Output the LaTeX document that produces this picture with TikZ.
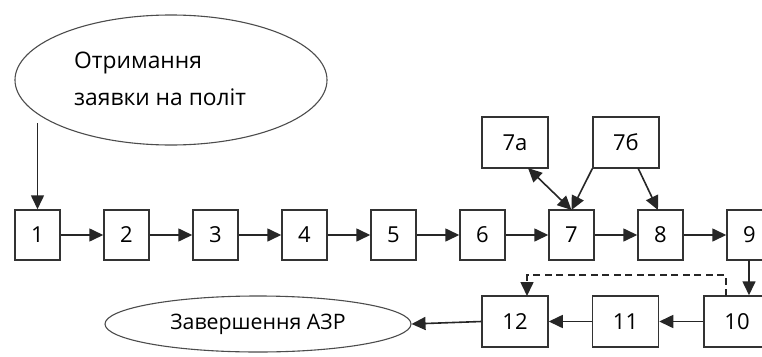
\documentclass[tikz,border=0pt]{standalone}
\usepackage{fontspec}
\setmainfont{Open Sans}
\usetikzlibrary{shapes.geometric,arrows.meta}
\begin{document}
\begin{tikzpicture}[x=1pt,y=-1pt,
  box/.style={draw=black!80,line width=1.5pt,fill=white,minimum width=45pt,minimum height=50pt,inner sep=0pt,font=\fontsize{22}{26}\selectfont},
  wbox/.style={box,minimum width=66pt,minimum height=51pt},
  ell/.style={draw=black!70,line width=1.1pt,ellipse,inner sep=0pt},
  arr/.style={draw=black!85,line width=1.6pt,-{Triangle[length=14pt,width=13pt]}},
  darr/.style={arr,{Triangle[length=14pt,width=13pt]}-{Triangle[length=14pt,width=13pt]}},
  txt/.style={font=\fontsize{22.8}{37}\selectfont,align=left,inner sep=0pt}]
\useasboundingbox (0,0) rectangle (762,356);
\clip (0,0) rectangle (762,356);
\fill[white] (0,0) rectangle (762,356);
% ellipses
\node[ell,minimum width=312pt,minimum height=130pt] (e1) at (171,80) {};
\node[txt,anchor=west] (e1t) at (74,79) {Отримання\\заявки на політ};
\node[ell,minimum width=306pt,minimum height=56pt,font=\fontsize{21.3}{25}\selectfont] (e2) at (258,324) {Завершення АЗР};
% row 1
\foreach \i in {1,...,9}{
  \node[box] (b\i) at ({37.5+89*(\i-1)},235) {\i};
}
% top boxes
\node[wbox] (b7a) at (515,142.5) {7а};
\node[wbox] (b7b) at (626,142.5) {7б};
% row 2
\node[wbox] (b12) at (515,321.5) {12};
\node[wbox] (b11) at (625.5,321.5) {11};
\node[wbox] (b10) at (737,321.5) {10};
% connectors
\coordinate (s1) at (37.5,123);
\draw[arr] (s1) -- (b1.north);
\foreach \i [evaluate=\i as \j using int(\i+1)] in {1,...,8}{
  \draw[arr] (b\i.east) -- (b\j.west);
}
\coordinate (a7top) at (571.5,210);
\coordinate (a8top) at (658,210);
\draw[darr] (528,168) coordinate (p7a) -- (a7top);
\draw[arr] (b7b.south west) -- (a7top);
\coordinate (p7b) at (638,168);
\draw[arr] (p7b) -- (a8top);
\coordinate (c9) at (749,260);
\draw[arr] (c9) -- (c9 |- b10.north);
\coordinate (d1) at (726,296);
\coordinate (d2) at (527,296);
\draw[arr,dash pattern=on 7pt off 4.5pt] (d1) -- (726,275) -- (527,275) -- (d2);
\draw[arr] (b10.west) -- (b11.east);
\draw[arr] (b11.west) -- (b12.east);
\draw[arr] (b12.west) -- (e2.east);
\end{tikzpicture}
\end{document}
